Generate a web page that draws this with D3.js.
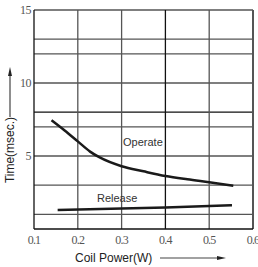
<!DOCTYPE html>
<html>
<head>
<meta charset="utf-8">
<script src="https://cdn.jsdelivr.net/npm/d3@7"></script>
<style>
  body { margin: 0; background: #fff; }
  svg { display: block; }
</style>
</head>
<body>
<svg id="chart" width="258" height="267"></svg>
<script>
// tick labels and grid
var xTicks = [0.1, 0.2, 0.3, 0.4, 0.5, 0.6];
var yTicks = [5, 10, 15];
var yGrid = [1, 3, 5, 7, 8, 10, 12, 13, 15];

// curves
var operatePower = [0.14, 0.17, 0.2, 0.228, 0.25, 0.3, 0.35, 0.4, 0.45, 0.5, 0.555];
var operateTime  = [7.45, 6.75, 6.0, 5.3, 4.9, 4.3, 3.95, 3.63, 3.4, 3.2, 2.97];
var releasePower = [0.154, 0.3, 0.4, 0.552];
var releaseTime  = [1.3, 1.4, 1.48, 1.62];

var svg = d3.select("#chart");

var x = d3.scaleLinear().domain([0.1, 0.6]).range([34, 253]);
var y = d3.scaleLinear().domain([0, 15]).range([229, 10]);

// grid lines
svg.append("g").selectAll("line")
  .data(yGrid)
  .join("line")
  .attr("x1", x(0.1)).attr("x2", x(0.6))
  .attr("y1", d => y(d)).attr("y2", d => y(d))
  .attr("stroke", d => d == 8 ? "#111" : "#555")
  .attr("stroke-width", 1.3);

svg.append("g").selectAll("line")
  .data(xTicks)
  .join("line")
  .attr("x1", d => x(d)).attr("x2", d => x(d))
  .attr("y1", y(0)).attr("y2", y(15))
  .attr("stroke", d => d == 0.4 || d == 0.1 ? "#111" : "#555")
  .attr("stroke-width", d => d == 0.6 ? 2 : 1.3);

// bottom axis line
svg.append("line")
  .attr("x1", x(0.1)).attr("x2", x(0.6))
  .attr("y1", y(0)).attr("y2", y(0))
  .attr("stroke", "#111").attr("stroke-width", 1.5);

// tick labels
svg.append("g").selectAll("text")
  .data(xTicks)
  .join("text")
  .attr("x", d => x(d)).attr("y", y(0) + 15)
  .attr("text-anchor", "middle")
  .attr("font-family", "Liberation Serif")
  .attr("font-size", 12)
  .attr("letter-spacing", -0.8)
  .attr("fill", "#555")
  .text(d => d3.format(".1f")(d));

svg.append("g").selectAll("text")
  .data(yTicks)
  .join("text")
  .attr("x", 31).attr("y", d => y(d) + 4)
  .attr("text-anchor", "end")
  .attr("font-family", "Liberation Serif")
  .attr("font-size", 12)
  .attr("letter-spacing", -0.5)
  .attr("fill", "#555")
  .text(d => d);

// curves
var line = d3.line()
  .x(d => x(d[0]))
  .y(d => y(d[1]))
  .curve(d3.curveMonotoneX);

svg.append("path")
  .datum(d3.zip(operatePower, operateTime))
  .attr("d", line)
  .attr("fill", "none")
  .attr("stroke", "#1a1a1a")
  .attr("stroke-width", 2.5);

svg.append("path")
  .datum(d3.zip(releasePower, releaseTime))
  .attr("d", line)
  .attr("fill", "none")
  .attr("stroke", "#1a1a1a")
  .attr("stroke-width", 2.5);

// curve labels
svg.append("text")
  .attr("x", 123).attr("y", 145.5)
  .attr("font-family", "Liberation Sans").attr("font-size", 11)
  .attr("fill", "#333")
  .text("Operate");

svg.append("text")
  .attr("x", 97).attr("y", 202)
  .attr("font-family", "Liberation Sans").attr("font-size", 11)
  .attr("fill", "#333")
  .text("Release");

// axis titles with arrows
svg.append("text")
  .attr("transform", "translate(14,150) rotate(-90)")
  .attr("text-anchor", "middle")
  .attr("font-family", "Liberation Sans").attr("font-size", 12)
  .attr("fill", "#222")
  .text("Time(msec.)");

svg.append("line")
  .attr("x1", 10).attr("x2", 10).attr("y1", 117).attr("y2", 74)
  .attr("stroke", "#444").attr("stroke-width", 1.2);
svg.append("path")
  .attr("d", "M10,67 L8,76 L12,76 Z")
  .attr("fill", "#222");

svg.append("text")
  .attr("x", 75).attr("y", 262)
  .attr("font-family", "Liberation Sans").attr("font-size", 12)
  .attr("fill", "#222")
  .text("Coil Power(W)");

svg.append("line")
  .attr("x1", 160).attr("x2", 219).attr("y1", 258).attr("y2", 258)
  .attr("stroke", "#444").attr("stroke-width", 1.2);
svg.append("path")
  .attr("d", "M226,258 L217,256 L217,260 Z")
  .attr("fill", "#222");
</script>
</body>
</html>
